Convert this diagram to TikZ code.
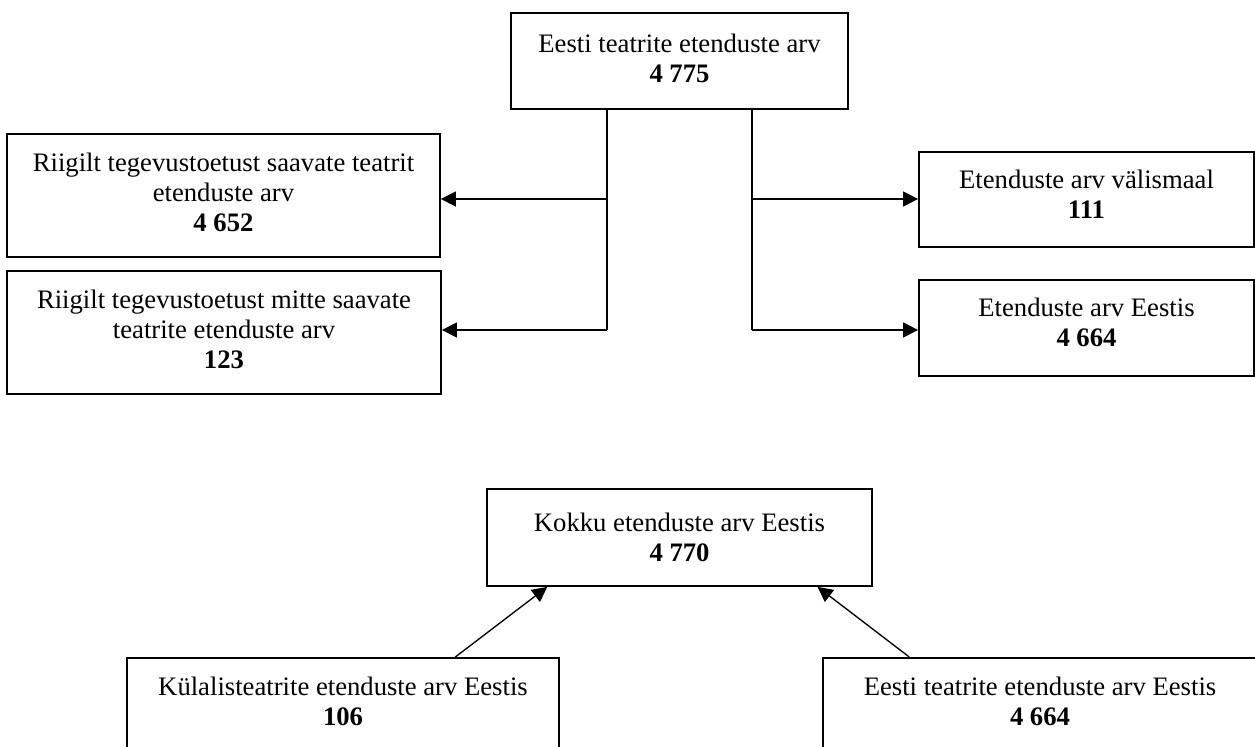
\documentclass[tikz,border=0pt]{standalone}
\usepackage{fontspec}
\setmainfont{Liberation Serif}
\usetikzlibrary{calc}
\usetikzlibrary{arrows.meta}

\begin{document}
\begin{tikzpicture}[x=0.45pt,y=-0.45pt,
  font=\fontsize{12}{13.5}\selectfont,
  box/.style={draw=black,line width=0.8pt,align=center,inner sep=2pt,text depth=2.7pt},
  lowbox/.style={box,anchor=north,inner ysep=8.8pt,text depth=40pt},
  arr/.style={-{Triangle[length=6.75pt,width=6.75pt]},line width=0.6pt}]
  \useasboundingbox (0,0) rectangle (1255,747);
  % upper part
  \node[box,minimum width=151.65pt,minimum height=43.2pt] (nTotal) at (679.5,61)
    {Eesti teatrite etenduste arv\\\textbf{4 775}};
  \node[box,minimum width=194.85pt,minimum height=55.35pt] (nRiik) at (223.5,195.5)
    {Riigilt tegevustoetust saavate teatrit\\etenduste arv\\\textbf{4 652}};
  \node[box,minimum width=195.3pt,minimum height=55.35pt] (nMitte) at (224,332.5)
    {Riigilt tegevustoetust mitte saavate\\teatrite etenduste arv\\\textbf{123}};
  \node[box,text depth=5pt,minimum width=150.75pt,minimum height=42.75pt] (nValis) at (1086.5,199.5)
    {Etenduste arv välismaal\\\textbf{111}};
  \node[box,text depth=5pt,minimum width=150.75pt,minimum height=43.2pt] (nEestis) at (1086.5,328)
    {Etenduste arv Eestis\\\textbf{4 664}};
  \coordinate (lj1) at (607,199);
  \coordinate (lj2) at (607,330);
  \coordinate (rj1) at (752,199);
  \coordinate (rj2) at (752,330);
  \draw[line width=0.6pt] (nTotal.south -| lj1) -- (lj2);
  \draw[line width=0.6pt] (nTotal.south -| rj1) -- (rj2);
  \draw[arr] (lj1) -- (lj1 -| nRiik.east);
  \draw[arr] (lj2) -- (lj2 -| nMitte.east);
  \draw[arr] (rj1) -- (rj1 -| nValis.west);
  \draw[arr] (rj2) -- (rj2 -| nEestis.west);
  % lower part
  \node[box,text depth=0pt,minimum width=173.25pt,minimum height=43.65pt] (nKokku) at (679.5,537.5)
    {Kokku etenduste arv Eestis\\\textbf{4 770}};
  \node[lowbox,minimum width=194.4pt] (nKylal) at (343,657)
    {Külalisteatrite etenduste arv Eestis\\\textbf{106}};
  \node[lowbox,minimum width=195.3pt] (nEesti) at (1040,657)
    {Eesti teatrite etenduste arv Eestis\\\textbf{4 664}};
  \draw[arr] ($(nKylal.north west)!0.759!(nKylal.north east)$)
    -- ($(nKokku.south west)!0.158!(nKokku.south east)$);
  \draw[arr] ($(nEesti.north west)!0.2!(nEesti.north east)$)
    -- ($(nKokku.south west)!0.857!(nKokku.south east)$);
\end{tikzpicture}
\end{document}
